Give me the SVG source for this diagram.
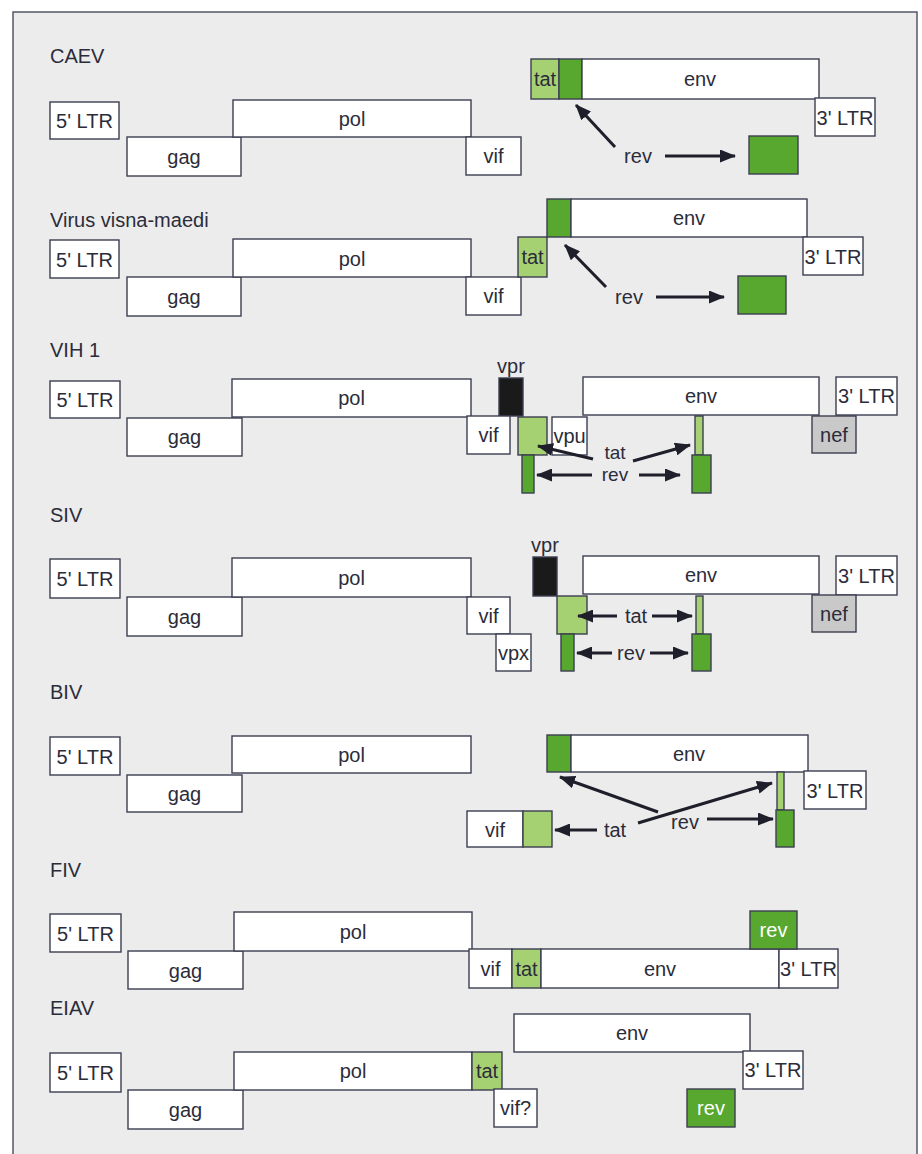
<svg xmlns="http://www.w3.org/2000/svg" width="922" height="1154" viewBox="0 0 922 1154">
<style>
.b{fill:#ffffff;stroke:#3b3e50;stroke-width:1.4}
.lg{fill:#a6d172;stroke:#3b3e50;stroke-width:1.4}
.dg{fill:#58a830;stroke:#3b3e50;stroke-width:1.4}
.bk{fill:#1a1a1a;stroke:#3b3e50;stroke-width:1.4}
.gr{fill:#c9c9c9;stroke:#3b3e50;stroke-width:1.4}
text{font-family:"Liberation Sans",Arial,sans-serif;font-size:20px;fill:#2b2c3a}
.c{text-anchor:middle}
.s{font-size:19px}
.w{fill:#ffffff}
.ar{stroke:#1e1f2a;stroke-width:3;fill:none;marker-end:url(#ah)}
</style>
<defs>
<marker id="ah" viewBox="0 0 16 13" refX="15" refY="6.5" markerWidth="16" markerHeight="13" markerUnits="userSpaceOnUse" orient="auto">
<path d="M0,0 L16,6.5 L0,13 z" fill="#1e1f2a"/>
</marker>
</defs>
<rect x="0" y="0" width="922" height="1154" fill="#ffffff"/>
<rect x="13" y="12" width="904" height="1160" fill="#ececec" stroke="#4a4d60" stroke-width="1.4"/>

<!-- CAEV -->
<g id="caev">
<text x="50" y="63">CAEV</text>
<g id="caev-5ltr"><rect class="b" x="50" y="102" width="69" height="37"/><text class="c" x="84.5" y="127.5">5' LTR</text></g>
<g id="caev-gag"><rect class="b" x="127" y="137" width="114" height="39"/><text class="c" x="184" y="163.5">gag</text></g>
<g id="caev-pol"><rect class="b" x="233" y="100" width="238" height="37"/><text class="c" x="352" y="125.5">pol</text></g>
<g id="caev-vif"><rect class="b" x="466" y="137" width="55" height="38"/><text class="c" x="493.5" y="163">vif</text></g>
<g id="caev-tat"><rect class="lg" x="531" y="59" width="28" height="40"/><text class="c" x="545" y="86">tat</text></g>
<g id="caev-rev1"><rect class="dg" x="559" y="59" width="23" height="40"/></g>
<g id="caev-env"><rect class="b" x="582" y="59" width="237" height="40"/><text class="c" x="700" y="86">env</text></g>
<g id="caev-3ltr"><rect class="b" x="815" y="98" width="60" height="38"/><text class="c" x="845" y="124.5">3' LTR</text></g>
<g id="caev-rev"><text class="c" x="638" y="163">rev</text></g>
<g id="caev-rev2"><rect class="dg" x="749" y="136" width="49" height="38"/></g>
</g>

<!-- Visna -->
<g id="visna">
<text x="50" y="227">Virus  visna-maedi</text>
<g id="visna-5ltr"><rect class="b" x="50" y="240" width="69" height="38"/><text class="c" x="84.5" y="266.5">5' LTR</text></g>
<g id="visna-gag"><rect class="b" x="127" y="277" width="114" height="39"/><text class="c" x="184" y="303.5">gag</text></g>
<g id="visna-pol"><rect class="b" x="233" y="239" width="238" height="38"/><text class="c" x="352" y="265.5">pol</text></g>
<g id="visna-vif"><rect class="b" x="466" y="277" width="55" height="38"/><text class="c" x="493.5" y="303">vif</text></g>
<g id="visna-tat"><rect class="lg" x="518" y="237" width="29" height="40"/><text class="c" x="532.5" y="264">tat</text></g>
<g id="visna-rev1"><rect class="dg" x="547" y="199" width="24" height="38"/></g>
<g id="visna-env"><rect class="b" x="571" y="199" width="236" height="38"/><text class="c" x="689" y="225">env</text></g>
<g id="visna-3ltr"><rect class="b" x="803" y="237" width="60" height="38"/><text class="c" x="833" y="263.5">3' LTR</text></g>
<g id="visna-rev"><text class="c" x="629" y="304">rev</text></g>
<g id="visna-rev2"><rect class="dg" x="738" y="276" width="48" height="38"/></g>
</g>

<!-- VIH 1 -->
<g id="vih1">
<text x="50" y="357">VIH 1</text>
<g id="vih1-5ltr"><rect class="b" x="50" y="381" width="70" height="37"/><text class="c" x="85" y="406.5">5' LTR</text></g>
<g id="vih1-gag"><rect class="b" x="127" y="418" width="115" height="38"/><text class="c" x="184.5" y="444">gag</text></g>
<g id="vih1-pol"><rect class="b" x="232" y="379" width="239" height="38"/><text class="c" x="351.5" y="405">pol</text></g>
<g id="vih1-vpr"><text class="c" x="511" y="373">vpr</text><rect class="bk" x="499" y="378" width="24" height="38"/></g>
<g id="vih1-vif"><rect class="b" x="467" y="416" width="43" height="38"/><text class="c" x="488.5" y="442">vif</text></g>
<g id="vih1-tat1"><rect class="lg" x="518" y="417" width="29" height="38"/></g>
<g id="vih1-rev1"><rect class="dg" x="522" y="455" width="12" height="38"/></g>
<g id="vih1-vpu"><rect class="b" x="552" y="417" width="35" height="38"/><text class="c" x="569.5" y="443">vpu</text></g>
<g id="vih1-env"><rect class="b" x="583" y="377" width="236" height="38"/><text class="c" x="701" y="403">env</text></g>
<g id="vih1-3ltr"><rect class="b" x="836" y="377" width="61" height="38"/><text class="c" x="866.5" y="403">3' LTR</text></g>
<g id="vih1-nef"><rect class="gr" x="812" y="416" width="44" height="37"/><text class="c" x="834" y="441.5">nef</text></g>
<g id="vih1-tat2"><rect class="lg" x="695" y="416" width="8" height="39"/></g>
<g id="vih1-rev2"><rect class="dg" x="692" y="455" width="19" height="38"/></g>
<g id="vih1-tat"><text class="c s" x="615" y="459">tat</text></g>
<g id="vih1-rev"><text class="c s" x="615" y="481">rev</text></g>
</g>

<!-- SIV -->
<g id="siv">
<text x="50" y="522">SIV</text>
<g id="siv-5ltr"><rect class="b" x="50" y="559" width="70" height="39"/><text class="c" x="85" y="585.5">5' LTR</text></g>
<g id="siv-gag"><rect class="b" x="127" y="597" width="115" height="39"/><text class="c" x="184.5" y="623.5">gag</text></g>
<g id="siv-pol"><rect class="b" x="232" y="558" width="239" height="39"/><text class="c" x="351.5" y="584.5">pol</text></g>
<g id="siv-vpr"><text class="c" x="545" y="552">vpr</text><rect class="bk" x="533" y="557" width="24" height="39"/></g>
<g id="siv-env"><rect class="b" x="583" y="556" width="236" height="38"/><text class="c" x="701" y="582">env</text></g>
<g id="siv-3ltr"><rect class="b" x="836" y="556" width="61" height="39"/><text class="c" x="866.5" y="582.5">3' LTR</text></g>
<g id="siv-nef"><rect class="gr" x="812" y="595" width="44" height="37"/><text class="c" x="834" y="620.5">nef</text></g>
<g id="siv-vif"><rect class="b" x="467" y="597" width="43" height="37"/><text class="c" x="488.5" y="622.5">vif</text></g>
<g id="siv-vpx"><rect class="b" x="496" y="634" width="35" height="37"/><text class="c" x="513.5" y="659.5">vpx</text></g>
<g id="siv-tat1"><rect class="lg" x="557" y="596" width="30" height="38"/></g>
<g id="siv-rev1"><rect class="dg" x="561" y="634" width="13" height="37"/></g>
<g id="siv-tat2"><rect class="lg" x="696" y="596" width="7" height="38"/></g>
<g id="siv-rev2"><rect class="dg" x="692" y="634" width="19" height="37"/></g>
<g id="siv-tat"><text class="c" x="636" y="623">tat</text></g>
<g id="siv-rev"><text class="c" x="631" y="660">rev</text></g>
</g>

<!-- BIV -->
<g id="biv">
<text x="50" y="699">BIV</text>
<g id="biv-5ltr"><rect class="b" x="50" y="737" width="70" height="38"/><text class="c" x="85" y="763.5">5' LTR</text></g>
<g id="biv-gag"><rect class="b" x="127" y="775" width="115" height="37"/><text class="c" x="184.5" y="800.5">gag</text></g>
<g id="biv-pol"><rect class="b" x="232" y="736" width="239" height="37"/><text class="c" x="351.5" y="761.5">pol</text></g>
<g id="biv-rev1"><rect class="dg" x="547" y="735" width="24" height="37"/></g>
<g id="biv-env"><rect class="b" x="571" y="735" width="237" height="37"/><text class="c" x="689" y="760.5">env</text></g>
<g id="biv-tat2"><rect class="lg" x="777" y="772" width="7" height="38"/></g>
<g id="biv-rev2"><rect class="dg" x="776" y="810" width="18" height="37"/></g>
<g id="biv-3ltr"><rect class="b" x="804" y="771" width="62" height="38"/><text class="c" x="835" y="797.5">3' LTR</text></g>
<g id="biv-vif"><rect class="b" x="467" y="811" width="56" height="36"/><text class="c" x="495" y="836.5">vif</text></g>
<g id="biv-tat1"><rect class="lg" x="523" y="811" width="29" height="36"/></g>
<g id="biv-tat"><text class="c" x="615" y="837">tat</text></g>
<g id="biv-rev"><text class="c" x="685" y="829">rev</text></g>
</g>

<!-- FIV -->
<g id="fiv">
<text x="50" y="877">FIV</text>
<g id="fiv-5ltr"><rect class="b" x="50" y="914" width="71" height="38"/><text class="c" x="85.5" y="940.5">5' LTR</text></g>
<g id="fiv-gag"><rect class="b" x="128" y="951" width="115" height="38"/><text class="c" x="185.5" y="977.5">gag</text></g>
<g id="fiv-pol"><rect class="b" x="234" y="912" width="238" height="39"/><text class="c" x="353" y="938.5">pol</text></g>
<g id="fiv-vif"><rect class="b" x="469" y="949" width="43" height="39"/><text class="c" x="490.5" y="975.5">vif</text></g>
<g id="fiv-tat"><rect class="lg" x="512" y="949" width="29" height="39"/><text class="c" x="526.5" y="975.5">tat</text></g>
<g id="fiv-env"><rect class="b" x="541" y="949" width="238" height="39"/><text class="c" x="660" y="975.5">env</text></g>
<g id="fiv-3ltr"><rect class="b" x="779" y="949" width="59" height="39"/><text class="c" x="808.5" y="975.5">3' LTR</text></g>
<g id="fiv-rev"><rect class="dg" x="750" y="911" width="47" height="38"/><text class="c w" x="773.5" y="937">rev</text></g>
</g>

<!-- EIAV -->
<g id="eiav">
<text x="50" y="1015">EIAV</text>
<g id="eiav-env"><rect class="b" x="514" y="1014" width="236" height="38"/><text class="c" x="632" y="1040">env</text></g>
<g id="eiav-5ltr"><rect class="b" x="50" y="1053" width="71" height="39"/><text class="c" x="85.5" y="1079.5">5' LTR</text></g>
<g id="eiav-gag"><rect class="b" x="128" y="1090" width="115" height="39"/><text class="c" x="185.5" y="1116.5">gag</text></g>
<g id="eiav-pol"><rect class="b" x="234" y="1052" width="238" height="38"/><text class="c" x="353" y="1078">pol</text></g>
<g id="eiav-tat"><rect class="lg" x="472" y="1052" width="30" height="38"/><text class="c" x="487" y="1078">tat</text></g>
<g id="eiav-vif"><rect class="b" x="494" y="1089" width="43" height="38"/><text class="c" x="515.5" y="1115">vif?</text></g>
<g id="eiav-3ltr"><rect class="b" x="743" y="1051" width="60" height="38"/><text class="c" x="773" y="1077">3' LTR</text></g>
<g id="eiav-rev"><rect class="dg" x="687" y="1089" width="48" height="38"/><text class="c w" x="711" y="1115">rev</text></g>
</g>

<!-- connectors -->
<g id="connectors">
<line class="ar" x1="615" y1="147" x2="576" y2="105"/>
<line class="ar" x1="665" y1="156" x2="735" y2="156"/>
<line class="ar" x1="606" y1="287" x2="565" y2="245"/>
<line class="ar" x1="656" y1="297" x2="724" y2="297"/>
<line class="ar" x1="593" y1="459" x2="538" y2="446"/>
<line class="ar" x1="633" y1="461" x2="690" y2="445"/>
<line class="ar" x1="592" y1="475" x2="537" y2="475"/>
<line class="ar" x1="639" y1="475" x2="680" y2="475"/>
<line class="ar" x1="617" y1="616" x2="578" y2="616"/>
<line class="ar" x1="652" y1="616" x2="692" y2="616"/>
<line class="ar" x1="612" y1="653" x2="577" y2="653"/>
<line class="ar" x1="650" y1="653" x2="688" y2="653"/>
<line class="ar" x1="597" y1="830" x2="555" y2="830"/>
<line class="ar" x1="638" y1="823" x2="772" y2="783"/>
<line class="ar" x1="658" y1="812" x2="560" y2="777"/>
<line class="ar" x1="707" y1="819" x2="773" y2="819"/>
</g>
</svg>
